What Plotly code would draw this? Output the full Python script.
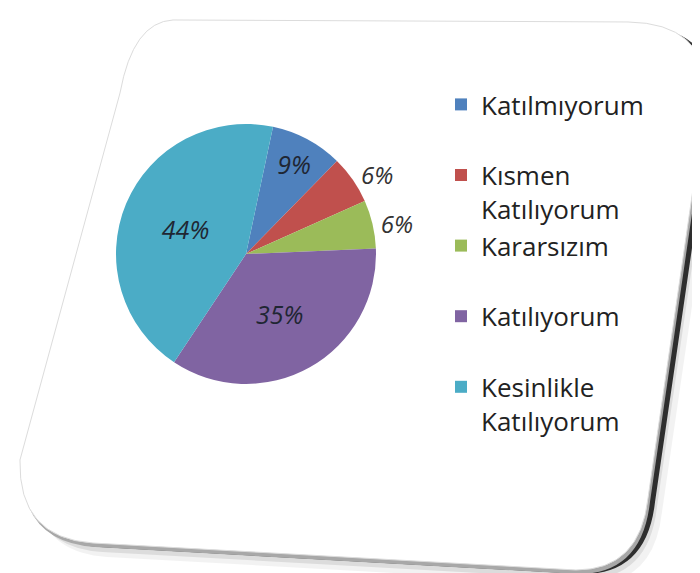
import plotly.graph_objects as go

W, H = 700, 573

categories = ["Katılmıyorum<br> ", "Kısmen<br>Katılıyorum", "Kararsızım<br> ", "Katılıyorum<br> ", "Kesinlikle<br>Katılıyorum"]
values = [9, 6, 6, 35, 44]
colors = ["#4F81BD", "#C0504D", "#9BBB59", "#8064A2", "#4BACC6"]
text_positions = ["inside", "outside", "outside", "inside", "inside"]


def P(x, y):
    return f"{x / W:.4f},{1 - y / H:.4f}"


def card_path(dx=0, dy=0):
    pts = [
        ("M", [(165 + dx, 12 + dy)]),
        ("L", [(620 + dx, 14 + dy)]),
        ("Q", [(698 + dx, 15 + dy), (699 + dx, 85 + dy)]),
        ("L", [(640 + dx, 490 + dy)]),
        ("Q", [(632 + dx, 562 + dy), (568 + dx, 562 + dy)]),
        ("L", [(85 + dx, 535 + dy)]),
        ("Q", [(10 + dx, 530 + dy), (12 + dx, 452 + dy)]),
        ("L", [(112 + dx, 85 + dy)]),
        ("Q", [(125 + dx, 14 + dy), (165 + dx, 12 + dy)]),
    ]
    s = ""
    for cmd, ps in pts:
        s += cmd + " " + " ".join(P(x, y) for x, y in ps) + " "
    return s + "Z"


shapes = [
    dict(type="path", path=card_path(14, 14), xref="paper", yref="paper",
         fillcolor="rgba(0,0,0,0.05)", line=dict(width=0), layer="below"),
    dict(type="path", path=card_path(9, 9), xref="paper", yref="paper",
         fillcolor="rgba(0,0,0,0.09)", line=dict(width=0), layer="below"),
    dict(type="path", path=card_path(7, 4), xref="paper", yref="paper",
         fillcolor="rgba(15,15,15,0.85)", line=dict(width=0), layer="below"),
    dict(type="path", path=card_path(2, 4), xref="paper", yref="paper",
         fillcolor="#a8a8a8", line=dict(width=0), layer="below"),
    dict(type="path", path=card_path(0, 0), xref="paper", yref="paper",
         fillcolor="white", line=dict(width=1, color="#dcdcdc"), layer="below"),
]

fig = go.Figure(
    go.Pie(
        labels=categories,
        values=values,
        sort=False,
        direction="clockwise",
        rotation=12,
        marker=dict(colors=colors, line=dict(width=0)),
        textinfo="percent",
        texttemplate="%{percent:.0%}",
        textposition=text_positions,
        insidetextorientation="horizontal",
        insidetextfont=dict(family="Open Sans", size=25, color="#1f2633", style="italic"),
        outsidetextfont=dict(family="Open Sans", size=24, color="#333333", style="italic"),
        domain=dict(x=[108 / W, 368 / W], y=[1 - 376 / H, 1 - 116 / H]),
        hole=0,
    )
)

fig.update_layout(
    width=W,
    height=H,
    margin=dict(l=0, r=0, t=0, b=0),
    paper_bgcolor="white",
    plot_bgcolor="white",
    shapes=shapes,
    showlegend=True,
    legend=dict(
        x=433 / W, y=1 - 73 / H, xanchor="left", yanchor="top",
        font=dict(family="Open Sans", size=26, color="#222222"),
        valign="top",
        bgcolor="rgba(0,0,0,0)",
        itemwidth=30,
    ),
)

fig.write_html("out.html")
